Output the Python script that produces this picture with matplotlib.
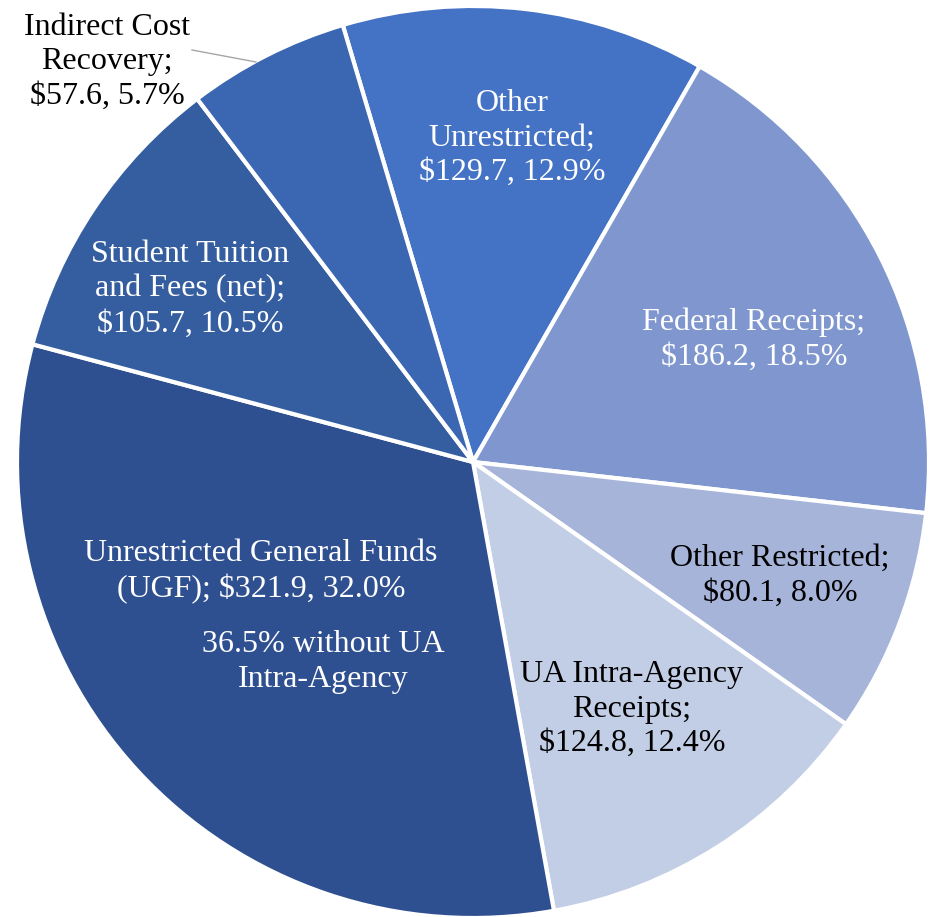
import numpy as np
import matplotlib.pyplot as plt

# Revenue pie, clockwise from "Other Unrestricted"
labels = ["Other\nUnrestricted;", "Federal Receipts;", "Other Restricted;",
          "UA Intra-Agency\nReceipts;", "Unrestricted General Funds\n(UGF);",
          "Student Tuition\nand Fees (net);", "Indirect Cost\nRecovery;"]
values = [129.7, 186.2, 80.1, 124.8, 321.9, 105.7, 57.6]
pcts = [12.9, 18.5, 8.0, 12.4, 32.0, 10.5, 5.7]
colors = ["#4472C4", "#7F97CE", "#A6B4DA", "#C2CDE6", "#2F5090", "#355EA0", "#3B66B1"]
text_col = ["white", "white", "black", "black", "white", "white", "black"]
note = "36.5% without UA\nIntra-Agency"

W, H = 933, 917
cx, cy, R = 473, 462, 456

fig = plt.figure(figsize=(W / 100, H / 100), dpi=100)
ax = fig.add_axes([0, 0, 1, 1])

# first slice starts 16.6 deg left of 12 o'clock
ax.pie(values, colors=colors, startangle=90 + 16.6, counterclock=False, radius=1,
       wedgeprops=dict(edgecolor="white", linewidth=3))
ax.set_aspect("auto")
ax.set_xlim(-cx / R, (W - cx) / R)
ax.set_ylim(-(H - cy) / R, cy / R)
ax.axis("off")

def px(x, y):
    return (x - cx) / R, (cy - y) / R

# label centres in pixels
pos = [(512, 138), (754, 340), (780, 576), (632, 709), (261, 572), (190, 289), (107, 62)]

def money(v, p):
    return "${:.1f}, {:.1f}%".format(v, p)

for i, lab in enumerate(labels):
    if i == 4:
        txt = lab + " " + money(values[i], pcts[i])
    else:
        txt = lab + "\n" + money(values[i], pcts[i])
    x, y = px(*pos[i])
    ax.text(x, y, txt, ha="center", va="center", fontsize=23, color=text_col[i],
            family="Liberation Serif", linespacing=1.26)

x, y = px(323, 662)
ax.text(x, y, note, ha="center", va="center", fontsize=23, color="white",
        family="Liberation Serif", linespacing=1.26)

# leader line for Indirect Cost Recovery
x0, y0 = px(192, 50)
x1, y1 = px(256, 62)
ax.plot([x0, x1], [y0, y1], color="#A6A6A6", linewidth=1)

fig.savefig("out.png", dpi=100)
